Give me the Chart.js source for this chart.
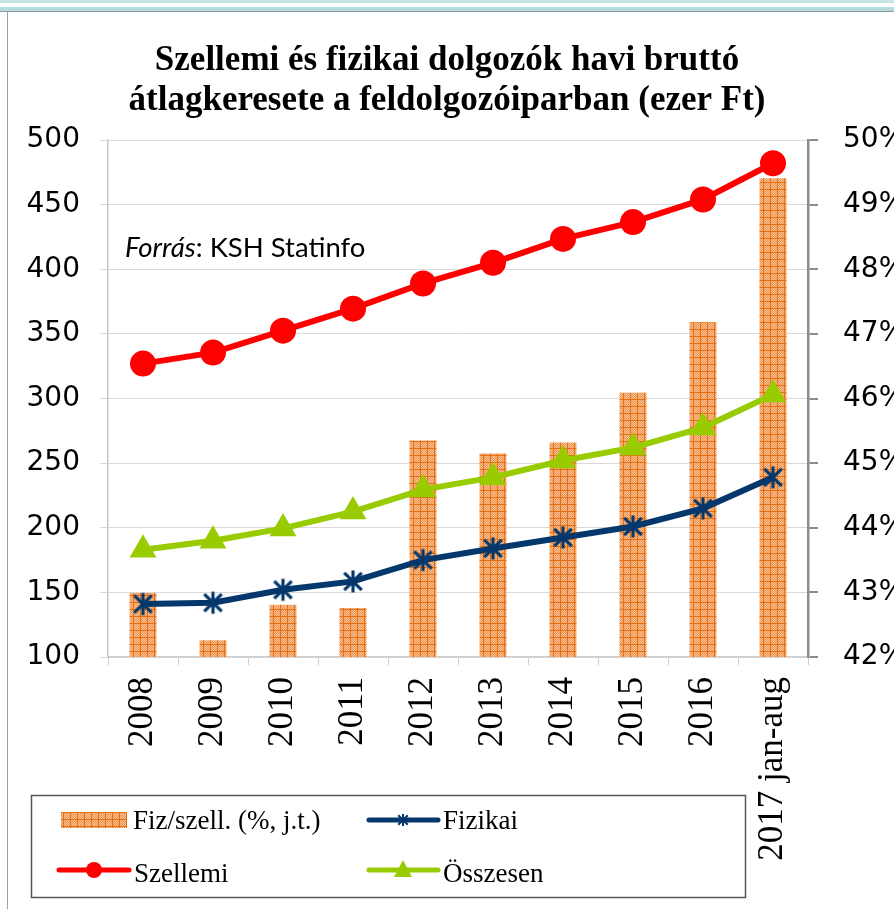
<!DOCTYPE html>
<html>
<head>
<meta charset="utf-8">
<script src="https://cdn.jsdelivr.net/npm/chart.js@4.4.0/dist/chart.umd.min.js"></script>
<style>
    html, body { margin: 0; padding: 0; background: #fff; overflow: hidden; }
    #wrap { position: relative; width: 894px; height: 909px; overflow: hidden; }
    #chart { position: absolute; left: 0; top: 0; }
    .band { position: absolute; left: 0; width: 894px; }
</style>
</head>
<body>
<div id="wrap">
    <canvas id="chart" width="894" height="909"></canvas>
    <div class="band" style="top:0;height:3px;background:#c3e3e5"></div>
    <div class="band" style="top:7px;height:4px;background:#b7dcdf"></div>
    <div class="band" style="top:11px;height:1px;background:#8a9a9c"></div>
    <div style="position:absolute;left:7px;top:12px;width:1px;height:897px;background:#a0a0a0"></div>
</div>
<script>
// categories
const years = ['2008', '2009', '2010', '2011', '2012', '2013', '2014', '2015', '2016', '2017 jan-aug'];
// Fiz/szell. ratio (%, right axis)
const ratio = [42.99, 42.26, 42.81, 42.76, 45.35, 45.15, 45.32, 46.09, 47.18, 49.41];
// monthly gross earnings (thousand Ft, left axis)
const szellemi = [327, 335.5, 352.5, 369.5, 389, 405, 423.5, 436.5, 454, 482];
const fizikai = [141, 142, 152, 158.5, 175, 184, 192.5, 201, 215, 239];
const osszesen = [183, 190, 199.5, 212.5, 229.5, 239, 252, 262, 277.5, 303];
// axis ranges
const leftTicks = [100, 500, 50];
const rightTicks = [42, 50, 1];

// orange small-grid fill for the bars
function makePattern() {
    const c = document.createElement('canvas');
    c.width = 7; c.height = 7;
    const g = c.getContext('2d');
    for (let y = 0; y < 7; y++) {
        for (let x = 0; x < 7; x++) {
            g.fillStyle = (x + y) % 2 ? '#f7c096' : '#f09650';
            g.fillRect(x, y, 1, 1);
        }
    }
    g.fillStyle = '#e66f12';
    g.fillRect(0, 0, 7, 1);
    g.fillRect(0, 0, 1, 7);
    return g.createPattern(c, 'repeat');
}

// asterisk marker (X + vertical line)
function makeStar(size, color, lw) {
    const c = document.createElement('canvas');
    c.width = size; c.height = size;
    const g = c.getContext('2d');
    const m = size / 2, r = size / 2 - lw / 2;
    g.strokeStyle = color;
    g.lineWidth = lw;
    g.beginPath();
    g.moveTo(m, m - r); g.lineTo(m, m + r);
    g.moveTo(m - r * 0.8, m - r * 0.8); g.lineTo(m + r * 0.8, m + r * 0.8);
    g.moveTo(m + r * 0.8, m - r * 0.8); g.lineTo(m - r * 0.8, m + r * 0.8);
    g.stroke();
    return c;
}

const ctx = document.getElementById('chart').getContext('2d');
const barFill = makePattern();
const navy = '#04386c';
const starBig = makeStar(25, navy, 3.2);
const starSmall = makeStar(14, navy, 2);

// source note + legend box drawn on top
const extras = {
    id: 'extras',
    afterDraw(chart) {
        const c = chart.ctx;
        c.save();
        c.fillStyle = '#000';
        c.textBaseline = 'alphabetic';
        c.textAlign = 'left';
        c.font = 'italic 27.5px Lato';
        c.fillText('Forrás', 125, 257);
        const w = c.measureText('Forrás').width;
        c.font = '27.5px Lato';
        c.fillText(': KSH Statinfo', 125 + w, 257);

        // legend
        c.fillStyle = '#fff';
        c.fillRect(31, 795, 714, 102);
        c.strokeStyle = '#555';
        c.lineWidth = 1.5;
        c.strokeRect(31.5, 795.5, 714, 102);

        c.font = '27px "Liberation Serif"';
        c.fillStyle = '#000';
        c.fillText('Fiz/szell. (%, j.t.)', 133, 829);
        c.fillText('Fizikai', 443, 829);
        c.fillText('Szellemi', 134, 882);
        c.fillText('Összesen', 443, 882);

        c.fillStyle = barFill;
        c.fillRect(61, 812, 66, 16);

        c.lineCap = 'round';
        c.lineWidth = 5;
        function seg(x1, x2, y, col) {
            c.strokeStyle = col;
            c.beginPath(); c.moveTo(x1, y); c.lineTo(x2, y); c.stroke();
        }
        seg(369, 438, 820, navy);
        c.drawImage(starSmall, 403 - 7, 820 - 7);
        seg(59, 129, 870, '#ff0000');
        c.fillStyle = '#ff0000';
        c.beginPath(); c.arc(94, 870, 8, 0, Math.PI * 2); c.fill();
        seg(369, 438, 870, '#99cc00');
        c.fillStyle = '#99cc00';
        c.beginPath();
        c.moveTo(403, 860); c.lineTo(412, 877); c.lineTo(394, 877); c.closePath();
        c.fill();
        c.restore();
    }
};

const chart = new Chart(ctx, {
    type: 'bar',
    data: {
        labels: years,
        datasets: [
            {
                type: 'line',
                label: 'Szellemi',
                data: szellemi,
                yAxisID: 'y',
                borderColor: '#ff0000',
                backgroundColor: '#ff0000',
                borderWidth: 6,
                pointStyle: 'circle',
                pointRadius: 13,
                pointBorderWidth: 0,
                tension: 0,
                order: 1
            },
            {
                type: 'line',
                label: 'Fizikai',
                data: fizikai,
                yAxisID: 'y',
                borderColor: navy,
                backgroundColor: navy,
                borderWidth: 6,
                pointStyle: starBig,
                tension: 0,
                order: 2
            },
            {
                type: 'line',
                label: 'Összesen',
                data: osszesen,
                yAxisID: 'y',
                borderColor: '#99cc00',
                backgroundColor: '#99cc00',
                borderWidth: 6,
                pointStyle: 'triangle',
                pointRadius: 15.5,
                pointBorderWidth: 0,
                tension: 0,
                order: 3
            },
            {
                label: 'Fiz/szell. (%, j.t.)',
                data: ratio,
                yAxisID: 'y1',
                backgroundColor: barFill,
                borderWidth: 0,
                categoryPercentage: 1,
                barPercentage: 0.385,
                order: 5
            }
        ]
    },
    options: {
        responsive: false,
        animation: false,
        layout: { padding: 0 },
        plugins: {
            legend: { display: false },
            tooltip: { enabled: false },
            title: {
                display: true,
                text: ['Szellemi és fizikai dolgozók havi bruttó', 'átlagkeresete a feldolgozóiparban (ezer Ft)'],
                color: '#000',
                font: { family: '"Liberation Serif"', size: 35, weight: 'bold', lineHeight: 40 / 35 },
                padding: { top: 41, bottom: 19 }
            }
        },
        scales: {
            x: {
                offset: true,
                grid: { offset: true, drawOnChartArea: false, color: '#cfcfcf', tickLength: 8 },
                border: { color: '#cfcfcf', width: 1.5 },
                ticks: {
                    autoSkip: false,
                    minRotation: 90,
                    maxRotation: 90,
                    padding: 12,
                    color: '#000',
                    font: { family: '"Liberation Serif"', size: 35 }
                },
                afterFit: s => { s.height = 252; }
            },
            y: {
                position: 'left',
                min: leftTicks[0],
                max: leftTicks[1],
                grid: { color: '#d9d9d9', lineWidth: 1, tickLength: 8 },
                border: { color: '#c8c8c8', width: 1.5 },
                ticks: {
                    stepSize: leftTicks[2],
                    padding: 20,
                    color: '#000',
                    font: { family: '"DejaVu Sans"', size: 28 }
                },
                afterFit: s => { s.width = 108; }
            },
            y1: {
                position: 'right',
                min: rightTicks[0],
                max: rightTicks[1],
                grid: { drawOnChartArea: false, color: '#8c8c8c', lineWidth: 2, tickLength: 10 },
                border: { color: '#8c8c8c', width: 2.5 },
                ticks: {
                    stepSize: rightTicks[2],
                    padding: 25,
                    color: '#000',
                    font: { family: '"DejaVu Sans"', size: 28 },
                    callback: v => v + '%'
                },
                afterFit: s => { s.width = 86; }
            }
        }
    },
    plugins: [extras]
});
</script>
</body>
</html>
